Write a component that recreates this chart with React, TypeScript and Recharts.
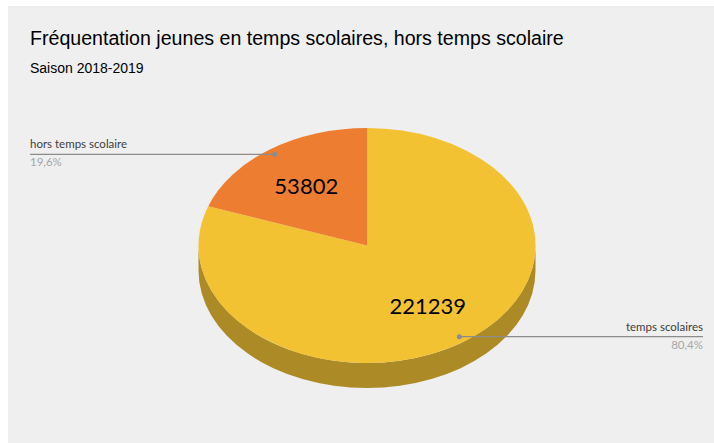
import { Pie, PieChart, Cell } from "recharts";

// Fréquentation jeunes, saison 2018-2019
const categories = ["temps scolaires", "hors temps scolaire"];
const values = [221239, 53802];
const colors = ["#F2C233", "#ED7D31"];
const sideColors = ["#AC8A26", "#A8561F"];

const data = categories.map((name, i) => ({ name, value: values[i] }));

const W = 706;
const H = 437;
const CX = 359;
const CY = 239.5;
const R = 168.5;
const SQUASH = 117.5 / 168.5;
const DEPTH = 25;
const RAD = Math.PI / 180;

const pt = (cx: number, cy: number, r: number, a: number) => [
  cx + r * Math.cos(a * RAD),
  cy - r * SQUASH * Math.sin(a * RAD),
];

function EllipseSector(props: any) {
  const { cx, cy, outerRadius, startAngle, endAngle, fill, index } = props;
  const [sx, sy] = pt(cx, cy, outerRadius, startAngle);
  const [ex, ey] = pt(cx, cy, outerRadius, endAngle);
  const ry = outerRadius * SQUASH;
  const large = Math.abs(endAngle - startAngle) > 180 ? 1 : 0;
  const sweep = startAngle > endAngle ? 1 : 0;
  const lo = Math.min(startAngle, endAngle);
  const hi = Math.max(startAngle, endAngle);

  // front wall: parts of the arc lying in the lower half of the ellipse
  const sides: string[] = [];
  for (const k of [-720, -360, 0, 360]) {
    const a = Math.max(lo, k - 180);
    const b = Math.min(hi, k);
    if (b - a > 0.01) {
      const [ax, ay] = pt(cx, cy, outerRadius, b);
      const [bx, by] = pt(cx, cy, outerRadius, a);
      sides.push(
        `M${ax},${ay} A${outerRadius},${ry} 0 0 1 ${bx},${by} L${bx},${by + DEPTH} A${outerRadius},${ry} 0 0 0 ${ax},${ay + DEPTH} Z`
      );
    }
  }

  return (
    <g>
      {sides.map((d, i) => (
        <path key={i} d={d} fill={sideColors[index] ?? "#999"} stroke="none" />
      ))}
      <path
        d={`M${cx},${cy} L${sx},${sy} A${outerRadius},${ry} 0 ${large} ${sweep} ${ex},${ey} Z`}
        fill={fill}
        stroke="none"
      />
    </g>
  );
}

function renderLabel(props: any) {
  const { cx, cy, midAngle, outerRadius, percent, value, name } = props;
  const [vx, vy] = pt(cx, cy, outerRadius * 0.625, midAngle);
  const [dx, dy] = pt(cx, cy, outerRadius * 0.95, midAngle);
  const right = Math.cos(midAngle * RAD) > 0;
  const endX = right ? 695 : 22;
  const pct = (percent * 100).toFixed(1).replace(".", ",") + "%";
  return (
    <g>
      <text
        x={vx}
        y={vy}
        textAnchor="middle"
        dominantBaseline="central"
        fontFamily="Lato, sans-serif"
        fontSize={22}
        fill="#000"
      >
        {value}
      </text>
      <line x1={dx} y1={dy} x2={endX} y2={dy} stroke="#8c8c8c" strokeWidth={1.2} />
      <circle cx={dx} cy={dy} r={2.5} fill="#8c8c8c" />
      <text
        x={endX}
        y={dy - 6}
        textAnchor={right ? "end" : "start"}
        fontFamily="Lato, sans-serif"
        fontSize={11.5}
        fill="#404040"
      >
        {name}
      </text>
      <text
        x={endX}
        y={dy + 12}
        textAnchor={right ? "end" : "start"}
        fontFamily="Lato, sans-serif"
        fontSize={11.5}
        fill="#a6a6a6"
      >
        {pct}
      </text>
    </g>
  );
}

export default function App() {
  return (
    <div
      style={{
        position: "absolute",
        left: 8,
        top: 6,
        width: W,
        height: H,
        background: "#EFEFEF",
      }}
    >
      <div
        style={{
          position: "absolute",
          left: 22,
          top: 21,
          fontFamily: "'Liberation Sans', Arial, sans-serif",
          fontSize: 19.6,
          color: "#000",
          whiteSpace: "nowrap",
        }}
      >
        Fréquentation jeunes en temps scolaires, hors temps scolaire
      </div>
      <div
        style={{
          position: "absolute",
          left: 22,
          top: 54,
          fontFamily: "'Liberation Sans', Arial, sans-serif",
          fontSize: 14,
          color: "#000",
          whiteSpace: "nowrap",
        }}
      >
        Saison 2018-2019
      </div>
      <PieChart
        width={W}
        height={H}
        margin={{ top: 0, right: 0, bottom: 0, left: 0 }}
        style={{ position: "absolute", left: 0, top: 0 }}
      >
        <Pie
          data={data}
          dataKey="value"
          nameKey="name"
          cx={CX}
          cy={CY}
          outerRadius={R}
          startAngle={90}
          endAngle={-270}
          stroke="none"
          shape={EllipseSector}
          activeShape={EllipseSector}
          inactiveShape={EllipseSector}
          label={renderLabel}
          labelLine={false}
          isAnimationActive={false}
        >
          {data.map((d, i) => (
            <Cell key={d.name} fill={colors[i]} />
          ))}
        </Pie>
      </PieChart>
    </div>
  );
}
